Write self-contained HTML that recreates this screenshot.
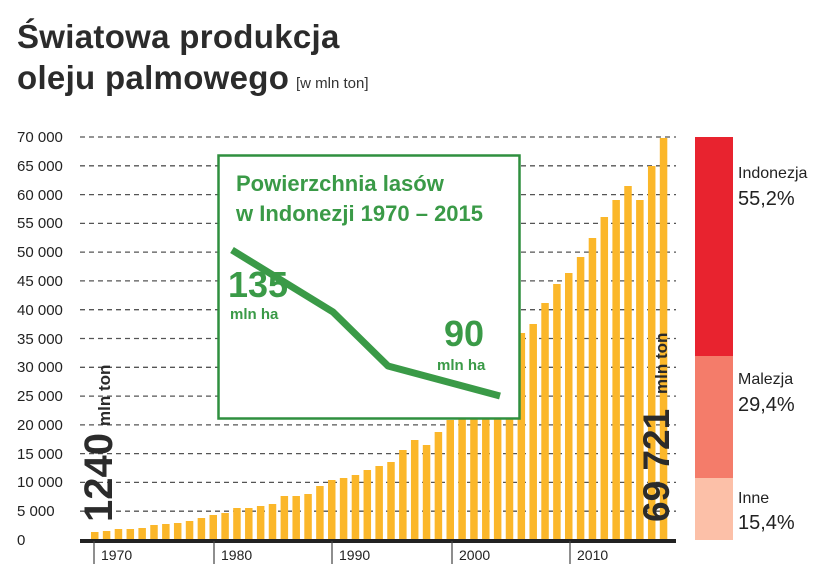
<!DOCTYPE html>
<html><head><meta charset="utf-8"><style>
body{margin:0;background:#fff;}
svg{display:block;font-family:"Liberation Sans",sans-serif;}
</style></head><body>
<svg width="830" height="584" viewBox="0 0 830 584" xmlns="http://www.w3.org/2000/svg">
<text x="17" y="48" font-size="33" font-weight="bold" fill="#2b2b2b" letter-spacing="0.3">Światowa produkcja</text>
<text x="17" y="89" font-size="33" font-weight="bold" fill="#2b2b2b" letter-spacing="0.3">oleju palmowego</text>
<text x="296" y="88" font-size="15" fill="#333">[w mln ton]</text>
<g font-size="15" fill="#222">
<text x="17" y="545">0</text><text x="17" y="516">5 000</text><text x="17" y="487">10 000</text><text x="17" y="459">15 000</text><text x="17" y="430">20 000</text><text x="17" y="401">25 000</text><text x="17" y="372">30 000</text><text x="17" y="344">35 000</text><text x="17" y="315">40 000</text><text x="17" y="286">45 000</text><text x="17" y="257">50 000</text><text x="17" y="228">55 000</text><text x="17" y="200">60 000</text><text x="17" y="171">65 000</text><text x="17" y="142">70 000</text>
</g>
<g stroke="#555" stroke-width="1.3" stroke-dasharray="5,4">
<line x1="80" x2="676" y1="511.2" y2="511.2"/><line x1="80" x2="676" y1="482.4" y2="482.4"/><line x1="80" x2="676" y1="453.6" y2="453.6"/><line x1="80" x2="676" y1="424.9" y2="424.9"/><line x1="80" x2="676" y1="396.1" y2="396.1"/><line x1="80" x2="676" y1="367.3" y2="367.3"/><line x1="80" x2="676" y1="338.5" y2="338.5"/><line x1="80" x2="676" y1="309.7" y2="309.7"/><line x1="80" x2="676" y1="280.9" y2="280.9"/><line x1="80" x2="676" y1="252.1" y2="252.1"/><line x1="80" x2="676" y1="223.4" y2="223.4"/><line x1="80" x2="676" y1="194.6" y2="194.6"/><line x1="80" x2="676" y1="165.8" y2="165.8"/><line x1="80" x2="676" y1="137" y2="137"/>
</g>
<g fill="#fbb72a">
<rect x="91.0" y="532" width="7.5" height="8"/><rect x="102.85" y="531" width="7.5" height="9"/><rect x="114.7" y="529" width="7.5" height="11"/><rect x="126.55" y="529" width="7.5" height="11"/><rect x="138.4" y="528" width="7.5" height="12"/><rect x="150.25" y="525" width="7.5" height="15"/><rect x="162.1" y="524" width="7.5" height="16"/><rect x="173.95" y="523" width="7.5" height="17"/><rect x="185.8" y="521" width="7.5" height="19"/><rect x="197.65" y="518" width="7.5" height="22"/><rect x="209.5" y="515" width="7.5" height="25"/><rect x="221.35" y="513" width="7.5" height="27"/><rect x="233.2" y="508" width="7.5" height="32"/><rect x="245.05" y="508" width="7.5" height="32"/><rect x="256.9" y="506" width="7.5" height="34"/><rect x="268.75" y="504" width="7.5" height="36"/><rect x="280.6" y="496" width="7.5" height="44"/><rect x="292.45" y="496" width="7.5" height="44"/><rect x="304.3" y="494" width="7.5" height="46"/><rect x="316.15" y="486" width="7.5" height="54"/><rect x="328.0" y="480" width="7.5" height="60"/><rect x="339.85" y="478" width="7.5" height="62"/><rect x="351.7" y="475" width="7.5" height="65"/><rect x="363.55" y="470" width="7.5" height="70"/><rect x="375.4" y="466" width="7.5" height="74"/><rect x="387.25" y="462" width="7.5" height="78"/><rect x="399.1" y="450" width="7.5" height="90"/><rect x="410.95" y="440" width="7.5" height="100"/><rect x="422.8" y="445" width="7.5" height="95"/><rect x="434.65" y="432" width="7.5" height="108"/><rect x="446.5" y="420" width="7.5" height="120"/><rect x="458.35" y="405" width="7.5" height="135"/><rect x="470.2" y="395" width="7.5" height="145"/><rect x="482.05" y="380" width="7.5" height="160"/><rect x="493.9" y="365" width="7.5" height="175"/><rect x="505.75" y="345" width="7.5" height="195"/><rect x="517.6" y="333" width="7.5" height="207"/><rect x="529.45" y="324" width="7.5" height="216"/><rect x="541.3" y="303" width="7.5" height="237"/><rect x="553.15" y="284" width="7.5" height="256"/><rect x="565.0" y="273" width="7.5" height="267"/><rect x="576.85" y="257" width="7.5" height="283"/><rect x="588.7" y="238" width="7.5" height="302"/><rect x="600.55" y="217" width="7.5" height="323"/><rect x="612.4" y="200" width="7.5" height="340"/><rect x="624.25" y="186" width="7.5" height="354"/><rect x="636.1" y="200" width="7.5" height="340"/><rect x="647.95" y="166" width="7.5" height="374"/><rect x="659.8" y="138" width="7.5" height="402"/>
</g>
<line x1="80" y1="541" x2="676" y2="541" stroke="#222" stroke-width="4"/>
<g stroke="#444" stroke-width="1.2">
<line x1="94" y1="541" x2="94" y2="564"/><line x1="214" y1="541" x2="214" y2="564"/>
<line x1="332" y1="541" x2="332" y2="564"/><line x1="452" y1="541" x2="452" y2="564"/>
<line x1="570" y1="541" x2="570" y2="564"/></g>
<g font-size="14" fill="#222">
<text x="101" y="560">1970</text><text x="221" y="560">1980</text><text x="339" y="560">1990</text>
<text x="459" y="560">2000</text><text x="577" y="560">2010</text></g>
<g transform="translate(112,522) rotate(-90)" fill="#2b2b2b" font-weight="bold">
<text x="0" y="0" font-size="40">1240</text><text x="96" y="-2" font-size="17">mln ton</text></g>
<g transform="translate(669,522) rotate(-90)" fill="#2b2b2b" font-weight="bold">
<text x="0" y="0" font-size="37">69 721</text><text x="128" y="-2" font-size="17">mln ton</text></g>
<rect x="218.5" y="155.5" width="301" height="263" fill="#fff" stroke="#2f8f3f" stroke-width="2.5"/>
<text x="236" y="191" font-size="22" font-weight="bold" fill="#3a9a47">Powierzchnia lasów</text>
<text x="236" y="221" font-size="22" font-weight="bold" fill="#3a9a47">w Indonezji 1970 – 2015</text>
<polyline points="232,250 333,312 388,366 500,396" fill="none" stroke="#3a9a47" stroke-width="7" stroke-linejoin="round"/>
<text x="228" y="297" font-size="36" font-weight="bold" fill="#3a9a47">135</text>
<text x="230" y="319" font-size="15" font-weight="bold" fill="#3a9a47">mln ha</text>
<text x="444" y="346" font-size="36" font-weight="bold" fill="#3a9a47">90</text>
<text x="437" y="370" font-size="15" font-weight="bold" fill="#3a9a47">mln ha</text>
<rect x="695" y="137" width="38" height="219" fill="#e8232f"/>
<rect x="695" y="356" width="38" height="122" fill="#f47c6a"/>
<rect x="695" y="478" width="38" height="62" fill="#fcc0a8"/>
<g font-size="16" fill="#222"><text x="738" y="178">Indonezja</text><text x="738" y="384">Malezja</text><text x="738" y="503">Inne</text></g>
<g font-size="20" fill="#222"><text x="738" y="205">55,2%</text><text x="738" y="411">29,4%</text><text x="738" y="529">15,4%</text></g>
</svg>
</body></html>
